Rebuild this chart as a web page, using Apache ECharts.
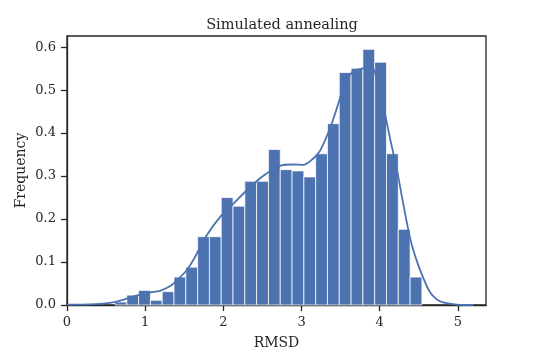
<!DOCTYPE html>
<html>
<head>
<meta charset="utf-8">
<script src="https://cdn.jsdelivr.net/npm/echarts@6.0.0/dist/echarts.min.js"></script>
<style>
  html, body { margin: 0; padding: 0; background: #fff; }
  #chart { width: 540px; height: 360px; }
</style>
</head>
<body>
<div id="chart"></div>
<script>
// histogram bins (RMSD)
var binStart = 0.614;
var binWidth = 0.151;
var binHeights = [0.007, 0.023, 0.034, 0.011, 0.031, 0.065, 0.088, 0.159, 0.159, 0.250,
                  0.230, 0.288, 0.288, 0.362, 0.315, 0.312, 0.298, 0.352, 0.422, 0.541,
                  0.551, 0.595, 0.565, 0.352, 0.176, 0.065];

// density curve
var kdeX = [0, 0.29, 0.55, 0.72, 0.89, 1.06, 1.19, 1.32, 1.42, 1.53, 1.62, 1.79, 1.96, 2.13,
            2.3, 2.47, 2.6, 2.72, 2.89, 3.02, 3.15, 3.24, 3.38, 3.49, 3.55, 3.66, 3.79, 3.9,
            3.96, 4.05, 4.13, 4.22, 4.3, 4.39, 4.47, 4.56, 4.64, 4.73, 4.81, 4.94, 5.03, 5.2];
var kdeY = [0.001, 0.0015, 0.005, 0.012, 0.022, 0.029, 0.033, 0.044, 0.06, 0.081, 0.106, 0.163,
            0.205, 0.236, 0.267, 0.295, 0.312, 0.324, 0.327, 0.326, 0.341, 0.36, 0.419, 0.48,
            0.516, 0.543, 0.551, 0.553, 0.528, 0.46, 0.39, 0.315, 0.237, 0.155, 0.105, 0.062,
            0.031, 0.013, 0.006, 0.002, 0.0005, 0.0];

var xTicks = [0, 1, 2, 3, 4, 5];
var yTicks = [0, 0.1, 0.2, 0.3, 0.4, 0.5, 0.6];

var barData = [];
for (var i = 0; i < binHeights.length; i++) {
    var x0 = binStart + i * binWidth;
    barData.push([x0, x0 + binWidth, binHeights[i]]);
}
var lineData = kdeX.map(function (x, i) { return [x, kdeY[i]]; });

var ink = '#262626';
var font = 'DejaVu Serif';
var chart = echarts.init(document.getElementById('chart'));

chart.setOption({
    animation: false,
    title: {
        text: 'Simulated annealing',
        left: 277, top: 13, textAlign: 'center',
        textStyle: { fontFamily: font, fontSize: 14.5, fontWeight: 'normal', color: ink }
    },
    grid: {
        left: 67, right: 54, top: 36, bottom: 55,
        show: true, borderColor: ink, borderWidth: 1.3, backgroundColor: 'transparent'
    },
    xAxis: {
        type: 'value', min: 0, max: 5.36,
        name: 'RMSD', nameLocation: 'middle', nameGap: 31, nameMoveOverlap: false,
        nameTextStyle: { fontFamily: font, fontSize: 14, color: ink },
        splitLine: { show: false },
        axisLine: { lineStyle: { color: ink, width: 1.3 } },
        axisTick: { show: true, length: 6, lineStyle: { color: ink, width: 1.3 }, customValues: xTicks },
        axisLabel: { fontFamily: font, fontSize: 13, color: ink, margin: 11, customValues: xTicks }
    },
    yAxis: {
        type: 'value', min: 0, max: 0.626,
        name: 'Frequency', nameLocation: 'middle', nameGap: 39, nameMoveOverlap: false,
        nameTextStyle: { fontFamily: font, fontSize: 14, color: ink },
        splitLine: { show: false },
        axisLine: { show: true, lineStyle: { color: ink, width: 1.3 } },
        axisTick: { show: true, length: 6, lineStyle: { color: ink, width: 1.3 }, customValues: yTicks },
        axisLabel: {
            fontFamily: font, fontSize: 13, color: ink, margin: 11, customValues: yTicks,
            formatter: function (v) { return v.toFixed(1); }
        }
    },
    series: [
        {
            type: 'custom',
            data: barData,
            encode: { x: [0, 1], y: 2 },
            renderItem: function (params, api) {
                var p0 = api.coord([api.value(0), api.value(2)]);
                var p1 = api.coord([api.value(1), 0]);
                return {
                    type: 'rect',
                    shape: { x: p0[0], y: p0[1], width: p1[0] - p0[0], height: p1[1] - p0[1] },
                    style: { fill: '#4c72b0', stroke: 'rgba(255,255,255,0.75)', lineWidth: 1 }
                };
            }
        },
        {
            type: 'line',
            data: lineData,
            smooth: 0.3,
            showSymbol: false,
            lineStyle: { color: '#4c72b0', width: 1.8 },
            z: 3
        }
    ]
});
</script>
</body>
</html>
